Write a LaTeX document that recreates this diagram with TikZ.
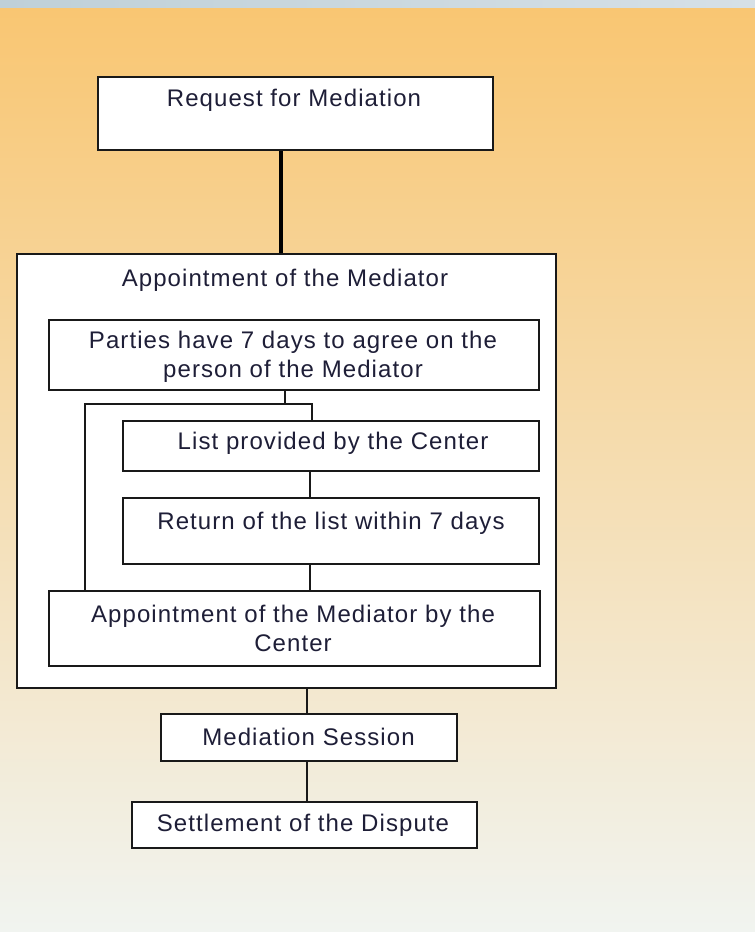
\documentclass[tikz,border=0pt]{standalone}
\usepackage{fontspec}
\setmainfont{Liberation Sans}
\newfontfamily\lblfont[LetterSpace=4.5]{Liberation Sans}
\usetikzlibrary{calc}
\definecolor{bgtop}{RGB}{249,198,114}
\definecolor{bgmid}{RGB}{246,220,166}
\definecolor{bgbot}{RGB}{241,244,240}
\definecolor{stripL}{RGB}{191,208,216}
\definecolor{stripR}{RGB}{214,224,230}
\definecolor{txt}{RGB}{30,30,55}
\definecolor{edge}{RGB}{25,25,25}
\tikzset{
  boxshape/.style={draw=edge, fill=white, line width=2.2pt, inner sep=0pt},
  lbl/.style={text=txt, font=\lblfont\fontsize{24}{28.5}\selectfont, align=center, inner sep=0pt},
  conn/.style={draw=edge, line width=2.2pt},
  thickconn/.style={draw=black, line width=4.5pt}
}
\begin{document}
\begin{tikzpicture}[x=1pt,y=-1pt]
\useasboundingbox (0,0) rectangle (755,932);
% background
\shade[top color=bgtop, middle color=bgmid, bottom color=bgbot] (0,7) rectangle (755,932);
\shade[left color=stripL, right color=stripR] (0,0) rectangle (755,7);

% boxes
\node[boxshape, minimum width=395, minimum height=73] (req) at (295.5,113.5) {};
\node[boxshape, minimum width=539, minimum height=434] (outer) at (286.5,471) {};
\node[boxshape, minimum width=490, minimum height=70] (parties) at (294,355) {};
\node[boxshape, minimum width=416, minimum height=50] (list) at (331,446) {};
\node[boxshape, minimum width=416, minimum height=66] (ret) at (331,531) {};
\node[boxshape, minimum width=491, minimum height=75] (apptc) at (294.5,628.5) {};
\node[boxshape, minimum width=296, minimum height=47] (sess) at (309,737.5) {};
\node[boxshape, minimum width=345, minimum height=46] (settle) at (304.5,825) {};

% texts
\node[lbl] (treq) at (294,100) {Request for Mediation};
\node[lbl] (tout) at (285,280) {Appointment of the Mediator};
\node[lbl] (tpar) at (293,357) {Parties have 7 days to agree on the\\person of the Mediator};
\node[lbl] (tlist) at (333,443) {List provided by the Center};
\node[lbl] (tret) at (331,523) {Return of the list within 7 days};
\node[lbl] (tapp) at (293,628.5) {Appointment of the Mediator by the\\Center};
\node[lbl] (tsess) at (308.5,737) {Mediation Session};
\node[lbl] (tset) at (303,825) {Settlement of the Dispute};

% guide coordinates
\coordinate (xA) at (281,0);
\coordinate (xB) at (285,0);
\coordinate (xL) at (85,0);
\coordinate (xR) at (312,0);
\coordinate (xC) at (310,0);
\coordinate (xD) at (307,0);
\coordinate (yH) at (0,404);

% connectors
\draw[thickconn] (req.south -| xA) -- (outer.north -| xA);
\draw[conn] (parties.south -| xB) -- (xB |- yH);
\draw[conn] (xL |- apptc.north) -- (xL |- yH) -- (xR |- yH) -- (xR |- list.north);
\draw[conn] (list.south -| xC) -- (ret.north -| xC);
\draw[conn] (ret.south -| xC) -- (apptc.north -| xC);
\draw[conn] (outer.south -| xD) -- (sess.north -| xD);
\draw[conn] (sess.south -| xD) -- (settle.north -| xD);
\end{tikzpicture}
\end{document}
